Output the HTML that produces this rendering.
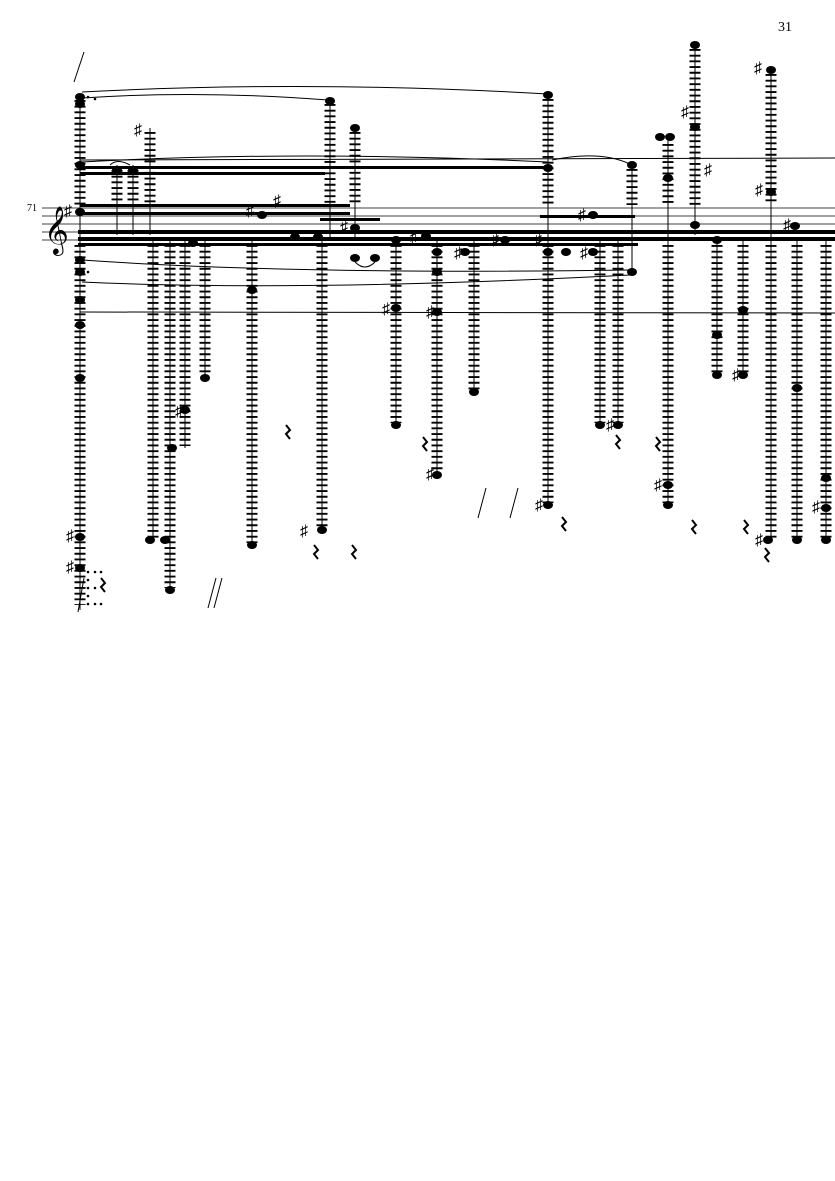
<!DOCTYPE html>
<html><head><meta charset="utf-8"><style>
html,body{margin:0;padding:0;background:#fff;width:835px;height:1181px;overflow:hidden}
svg{display:block}
text{font-family:"Liberation Serif","DejaVu Serif",serif;fill:#000}
</style></head><body>
<svg width="835" height="1181" viewBox="0 0 835 1181" xmlns="http://www.w3.org/2000/svg">
<rect width="835" height="1181" fill="#fff"/>
<text x="778" y="31" font-size="14">31</text>
<text x="27" y="211" font-size="10">71</text>
<g stroke="#000" stroke-width="0.8">
<line x1="42" y1="208" x2="835" y2="208"/><line x1="42" y1="216" x2="835" y2="216"/>
<line x1="42" y1="224" x2="835" y2="224"/><line x1="42" y1="232" x2="835" y2="232"/>
<line x1="42" y1="240" x2="835" y2="240"/>
</g>
<text x="44" y="244" font-size="42">𝄞</text>
<g fill="#000">
<rect x="78" y="230" width="757" height="4"/>
<rect x="78" y="237" width="757" height="4"/>
<rect x="78" y="243" width="560" height="3"/>
<rect x="80" y="166" width="470" height="3"/>
<rect x="80" y="172" width="245" height="3"/>
<rect x="80" y="204" width="270" height="3"/>
<rect x="80" y="212" width="270" height="3"/>
<rect x="540" y="215" width="95" height="3"/>
<rect x="320" y="218" width="60" height="3"/>
</g>
<g stroke="#000" fill="none" stroke-width="1">
<line x1="80" y1="160" x2="835" y2="158"/>
<line x1="80" y1="312" x2="835" y2="313"/>
<path d="M82 92 Q310 80 548 94"/>
<path d="M82 98 Q200 90 328 100"/>
<path d="M82 162 Q300 150 548 162"/>
<path d="M552 160 Q600 150 630 164"/>
<path d="M82 260 Q300 275 630 270"/>
<path d="M82 282 Q300 292 630 275"/>
<path d="M355 262 Q365 272 375 262"/>
<path d="M110 165 Q117 158 130 165"/>
</g>
<g stroke="#000">
<g stroke-width="1">
<line x1="80" y1="95" x2="80" y2="610"/><line x1="117" y1="165" x2="117" y2="235"/>
<line x1="133" y1="165" x2="133" y2="235"/><line x1="150" y1="128" x2="150" y2="235"/>
<line x1="153" y1="240" x2="153" y2="540"/><line x1="170" y1="240" x2="170" y2="590"/>
<line x1="185" y1="240" x2="185" y2="448"/><line x1="205" y1="240" x2="205" y2="378"/>
<line x1="252" y1="240" x2="252" y2="545"/><line x1="322" y1="240" x2="322" y2="530"/>
<line x1="330" y1="100" x2="330" y2="240"/><line x1="355" y1="128" x2="355" y2="240"/>
<line x1="396" y1="240" x2="396" y2="425"/><line x1="437" y1="240" x2="437" y2="475"/>
<line x1="474" y1="240" x2="474" y2="392"/><line x1="548" y1="95" x2="548" y2="505"/>
<line x1="600" y1="240" x2="600" y2="425"/><line x1="618" y1="240" x2="618" y2="425"/>
<line x1="632" y1="165" x2="632" y2="272"/><line x1="668" y1="140" x2="668" y2="505"/>
<line x1="695" y1="45" x2="695" y2="235"/><line x1="717" y1="240" x2="717" y2="375"/>
<line x1="743" y1="240" x2="743" y2="375"/><line x1="771" y1="70" x2="771" y2="540"/>
<line x1="797" y1="240" x2="797" y2="540"/><line x1="826" y1="240" x2="826" y2="540"/>
</g>
<g stroke-width="11" stroke-dasharray="1.9 3.8">
<line x1="80" y1="100" x2="80" y2="205"/><line x1="80" y1="245" x2="80" y2="605"/>
<line x1="117" y1="170" x2="117" y2="205"/><line x1="133" y1="170" x2="133" y2="205"/>
<line x1="150" y1="132" x2="150" y2="205"/><line x1="153" y1="245" x2="153" y2="538"/>
<line x1="170" y1="245" x2="170" y2="588"/><line x1="185" y1="245" x2="185" y2="446"/>
<line x1="205" y1="245" x2="205" y2="376"/><line x1="252" y1="245" x2="252" y2="543"/>
<line x1="322" y1="245" x2="322" y2="528"/><line x1="330" y1="104" x2="330" y2="205"/>
<line x1="355" y1="132" x2="355" y2="205"/><line x1="396" y1="245" x2="396" y2="423"/>
<line x1="437" y1="245" x2="437" y2="473"/><line x1="474" y1="245" x2="474" y2="390"/>
<line x1="548" y1="99" x2="548" y2="205"/><line x1="548" y1="245" x2="548" y2="503"/>
<line x1="600" y1="245" x2="600" y2="423"/><line x1="618" y1="245" x2="618" y2="423"/>
<line x1="632" y1="169" x2="632" y2="205"/><line x1="668" y1="144" x2="668" y2="205"/>
<line x1="668" y1="245" x2="668" y2="503"/><line x1="695" y1="49" x2="695" y2="205"/>
<line x1="717" y1="245" x2="717" y2="373"/><line x1="743" y1="245" x2="743" y2="373"/>
<line x1="771" y1="74" x2="771" y2="205"/><line x1="771" y1="245" x2="771" y2="538"/>
<line x1="797" y1="245" x2="797" y2="538"/><line x1="826" y1="245" x2="826" y2="538"/>
</g>
</g>
<g fill="#000">
<ellipse cx="80" cy="97" rx="5" ry="4"/><ellipse cx="80" cy="104" rx="5" ry="4"/>
<ellipse cx="80" cy="165" rx="5" ry="4"/><ellipse cx="80" cy="212" rx="5" ry="4"/>
<ellipse cx="80" cy="260" rx="5" ry="4"/><ellipse cx="80" cy="272" rx="5" ry="4"/>
<ellipse cx="80" cy="300" rx="5" ry="4"/><ellipse cx="80" cy="325" rx="5" ry="4"/>
<ellipse cx="80" cy="378" rx="5" ry="4"/><ellipse cx="80" cy="537" rx="5" ry="4"/>
<ellipse cx="80" cy="568" rx="5" ry="4"/>
<ellipse cx="117" cy="170" rx="5" ry="4"/><ellipse cx="133" cy="170" rx="5" ry="4"/>
<ellipse cx="150" cy="540" rx="5" ry="4"/><ellipse cx="165" cy="540" rx="5" ry="4"/>
<ellipse cx="170" cy="590" rx="5" ry="4"/><ellipse cx="172" cy="448" rx="5" ry="4"/>
<ellipse cx="185" cy="410" rx="5" ry="4"/><ellipse cx="205" cy="378" rx="5" ry="4"/>
<ellipse cx="193" cy="243" rx="5" ry="4"/><ellipse cx="252" cy="545" rx="5" ry="4"/>
<ellipse cx="252" cy="290" rx="5" ry="4"/><ellipse cx="262" cy="215" rx="5" ry="4"/>
<ellipse cx="295" cy="237" rx="5" ry="4"/><ellipse cx="318" cy="237" rx="5" ry="4"/>
<ellipse cx="322" cy="530" rx="5" ry="4"/><ellipse cx="330" cy="101" rx="5" ry="4"/>
<ellipse cx="355" cy="128" rx="5" ry="4"/><ellipse cx="355" cy="258" rx="5" ry="4"/>
<ellipse cx="375" cy="258" rx="5" ry="4"/><ellipse cx="355" cy="228" rx="5" ry="4"/>
<ellipse cx="396" cy="425" rx="5" ry="4"/><ellipse cx="396" cy="308" rx="5" ry="4"/>
<ellipse cx="396" cy="240" rx="5" ry="4"/><ellipse cx="426" cy="236" rx="5" ry="4"/>
<ellipse cx="437" cy="252" rx="5" ry="4"/><ellipse cx="437" cy="272" rx="5" ry="4"/>
<ellipse cx="437" cy="312" rx="5" ry="4"/><ellipse cx="437" cy="475" rx="5" ry="4"/>
<ellipse cx="465" cy="252" rx="5" ry="4"/><ellipse cx="474" cy="392" rx="5" ry="4"/>
<ellipse cx="505" cy="240" rx="5" ry="4"/><ellipse cx="548" cy="95" rx="5" ry="4"/>
<ellipse cx="548" cy="168" rx="5" ry="4"/><ellipse cx="548" cy="252" rx="5" ry="4"/>
<ellipse cx="548" cy="505" rx="5" ry="4"/><ellipse cx="566" cy="252" rx="5" ry="4"/>
<ellipse cx="593" cy="252" rx="5" ry="4"/><ellipse cx="593" cy="215" rx="5" ry="4"/>
<ellipse cx="600" cy="425" rx="5" ry="4"/><ellipse cx="618" cy="425" rx="5" ry="4"/>
<ellipse cx="632" cy="165" rx="5" ry="4"/><ellipse cx="632" cy="272" rx="5" ry="4"/>
<ellipse cx="660" cy="137" rx="5" ry="4"/><ellipse cx="670" cy="137" rx="5" ry="4"/>
<ellipse cx="668" cy="178" rx="5" ry="4"/><ellipse cx="668" cy="505" rx="5" ry="4"/>
<ellipse cx="668" cy="485" rx="5" ry="4"/><ellipse cx="695" cy="45" rx="5" ry="4"/>
<ellipse cx="695" cy="127" rx="5" ry="4"/><ellipse cx="695" cy="225" rx="5" ry="4"/>
<ellipse cx="717" cy="375" rx="5" ry="4"/><ellipse cx="717" cy="335" rx="5" ry="4"/>
<ellipse cx="717" cy="240" rx="5" ry="4"/><ellipse cx="743" cy="375" rx="5" ry="4"/>
<ellipse cx="743" cy="310" rx="5" ry="4"/><ellipse cx="771" cy="70" rx="5" ry="4"/>
<ellipse cx="771" cy="192" rx="5" ry="4"/><ellipse cx="768" cy="540" rx="5" ry="4"/>
<ellipse cx="797" cy="540" rx="5" ry="4"/><ellipse cx="797" cy="388" rx="5" ry="4"/>
<ellipse cx="795" cy="226" rx="5" ry="4"/><ellipse cx="826" cy="540" rx="5" ry="4"/>
<ellipse cx="826" cy="508" rx="5" ry="4"/><ellipse cx="826" cy="478" rx="5" ry="4"/>
</g>
<g font-size="16">
<text x="134" y="135">♯</text><text x="175" y="416">♯</text><text x="273" y="206">♯</text>
<text x="246" y="216">♯</text><text x="300" y="536">♯</text><text x="340" y="232">♯</text>
<text x="382" y="314">♯</text><text x="426" y="317">♯</text><text x="426" y="479">♯</text>
<text x="410" y="242">♯</text><text x="454" y="258">♯</text><text x="491" y="245">♯</text>
<text x="535" y="510">♯</text><text x="534" y="245">♯</text><text x="578" y="220">♯</text>
<text x="606" y="430">♯</text><text x="580" y="258">♯</text><text x="681" y="117">♯</text>
<text x="704" y="175">♯</text><text x="732" y="380">♯</text><text x="755" y="195">♯</text>
<text x="754" y="73">♯</text><text x="783" y="230">♯</text><text x="812" y="512">♯</text>
<text x="654" y="490">♯</text><text x="66" y="541">♯</text><text x="66" y="572">♯</text>
<text x="64" y="216">♯</text><text x="755" y="545">♯</text>
</g>
<g stroke="#000" stroke-width="2" fill="none">
<path d="M286 425 l4 5 -4 4 4 5"/><path d="M423 437 l4 5 -4 4 4 5"/>
<path d="M314 545 l4 5 -4 4 4 5"/><path d="M352 545 l4 5 -4 4 4 5"/>
<path d="M562 517 l4 5 -4 4 4 5"/><path d="M616 435 l4 5 -4 4 4 5"/>
<path d="M656 437 l4 5 -4 4 4 5"/><path d="M692 520 l4 5 -4 4 4 5"/>
<path d="M744 520 l4 5 -4 4 4 5"/><path d="M765 548 l4 5 -4 4 4 5"/>
<path d="M101 578 l4 5 -4 4 4 5"/>
</g>
<g stroke="#000" stroke-width="1" fill="none">
<line x1="74" y1="82" x2="84" y2="52"/><line x1="208" y1="608" x2="216" y2="578"/>
<line x1="214" y1="608" x2="222" y2="578"/><line x1="478" y1="518" x2="486" y2="488"/>
<line x1="510" y1="518" x2="518" y2="488"/><line x1="78" y1="612" x2="84" y2="578"/>
</g>
<g fill="#000">
<circle cx="88" cy="572" r="1.3"/><circle cx="88" cy="580" r="1.3"/><circle cx="88" cy="588" r="1.3"/>
<circle cx="88" cy="596" r="1.3"/><circle cx="88" cy="604" r="1.3"/>
<circle cx="95" cy="572" r="1.3"/><circle cx="95" cy="588" r="1.3"/><circle cx="95" cy="604" r="1.3"/>
<circle cx="101" cy="604" r="1.3"/><circle cx="101" cy="572" r="1.3"/>
<circle cx="88" cy="97" r="1.3"/><circle cx="95" cy="99" r="1.3"/><circle cx="88" cy="272" r="1.3"/>
</g>
</svg>
</body></html>
